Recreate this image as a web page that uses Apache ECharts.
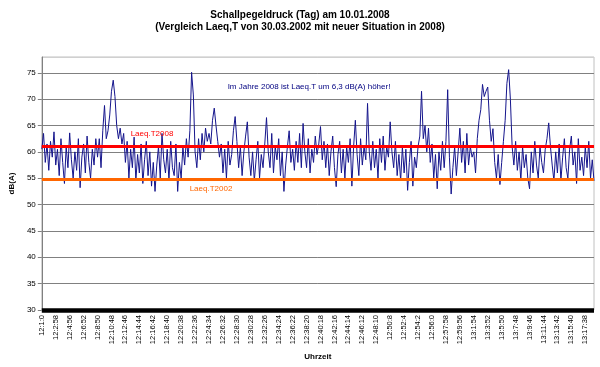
<!DOCTYPE html>
<html>
<head>
<meta charset="utf-8">
<script src="https://cdn.jsdelivr.net/npm/echarts@6/dist/echarts.min.js"></script>
<style>html,body{margin:0;padding:0;background:#fff}#c{width:600px;height:367px}</style>
</head>
<body>
<div id="c"></div>
<script>
// tick labels on the time axis (one every 8 plotted points)
const ticks = ['12:1:0','12:2:58','12:4:56','12:6:52','12:8:50','12:10:48','12:12:46','12:14:44','12:16:42','12:18:40','12:20:38','12:22:36','12:24:34','12:26:32','12:28:30','12:30:28','12:32:26','12:34:24','12:36:22','12:38:20','12:40:18','12:42:16','12:44:14','12:46:12','12:48:10','12:50:8','12:52:4','12:54:2','12:56:0','12:57:58','12:59:56','13:1:54','13:3:52','13:5:50','13:7:48','13:9:46','13:11:44','13:13:42','13:15:40','13:17:38'];
const pointsPerTick = 8;

// sound pressure level dB(A)
const levels = [
60.5,63.5,58,61.5,56.5,62,59,63.8,
57.5,60.5,55.5,62.5,58,54,61,57,
63.6,58.5,55,60,56.5,62.5,53.2,59,
61.5,56,63,58,55,60.5,57.5,62.5,
59,62.5,57,64,68.8,62.5,64,67,
71.5,73.6,70.5,65,62.5,64.5,61.5,63.5,
58,62,55,60.5,57,62.8,54.5,59.5,
56,61.5,54,58.5,62,55.5,60,53.5,
58,52.5,57.5,61,55,63.5,58.5,56,
60.5,54.5,62,57,55.5,61.5,52.5,58,
55,61,57.5,62.5,59,64,75.1,70.8,
60,57,62.5,58.5,63.5,60,64.5,62,
63.5,61.5,66,68.3,65,62,59,61.5,
56,60.5,55,62,57.5,59.5,64,66.7,
62,57,61,55.5,60,63,65.7,59,
55.5,60,54.5,58.5,62,55,59.5,57,
61.5,66.5,60,57,63.5,56,61,58.5,
62.5,55.5,60,52.5,57.5,61,64,58,
60.5,56.5,62,58,63.5,57,65.4,60,
57,62.5,56,60.5,58,63,59.5,61.5,
64.8,58.5,62,57,61.5,55.5,60,63,
57,53.4,59.5,62,56,60.5,55,61,
58,62.5,53.5,61,66,59.5,55.5,62.5,
57.5,61,58.5,69.2,60,56.5,62,57,
60.5,55,62.5,58,63,56.5,61,59,
65.7,60,57,62,55.5,59.5,54.5,61,
56,60.5,52.7,58,62,53.5,59,57,
61,63,71.5,62.5,65,60,64.5,58,
61.5,55,59.5,53,60,56.5,62,57,
62,71.8,59,52,57,61,55.5,60,
64.5,58,62,56,63.5,57.5,61,59,
60,56,62.5,66,68,72.8,70.5,71.5,
72.3,66,62,64.4,58,55,59.5,53.8,
58,62,66,73,75.6,70,61,57.5,
62,56.5,60,54.5,61,57,59.5,55,
53,60,56,62,57.5,55,61,58,
56,60.5,62.5,65.5,61,57.5,54.5,60,
56,61.5,54.5,59,62.5,57,55,60.5,
63,57.5,60,54,62.5,56.5,59,55.5,
61,57,62,55,58.5,54.5
];

// reference levels
const laeq2008 = 61.1;
const laeq2002 = 54.8;

const categories = levels.map((_, i) => {
  const t = Math.floor(i / pointsPerTick), r = i % pointsPerTick;
  return r === 0 ? ticks[t] : ticks[t] + '+' + r;
});

const FONT = 'Liberation Sans, Arial, sans-serif';
const titleStyle = {fontFamily: FONT, fontSize: 10, fontWeight: 'bold', color: '#000'};
const chart = echarts.init(document.getElementById('c'), null, {renderer: 'canvas'});
chart.setOption({
  animation: false,
  backgroundColor: '#ffffff',
  title: [
    {text: 'Schallpegeldruck (Tag) am 10.01.2008', left: 'center', top: 10.5, padding: 0, textStyle: titleStyle},
    {text: '(Vergleich Laeq,T von 30.03.2002 mit neuer Situation in 2008)', left: 'center', top: 22, padding: 0, textStyle: titleStyle}
  ],
  grid: {left: 34, right: 6, top: 57, bottom: 57, show: true, borderColor: '#c0c0c0', borderWidth: 1, backgroundColor: '#fff'},
  xAxis: {
    type: 'category',
    data: categories,
    boundaryGap: false,
    name: 'Uhrzeit',
    nameLocation: 'middle',
    nameGap: 43,
    nameTextStyle: {fontFamily: FONT, fontSize: 8, fontWeight: 'bold', color: '#000'},
    axisLine: {lineStyle: {color: '#000', width: 4.5, cap: 'butt'}},
    axisTick: {show: false},
    axisLabel: {interval: pointsPerTick - 1, rotate: 90, margin: 5, fontFamily: FONT, fontSize: 7.5, color: '#000'},
    splitLine: {show: false}
  },
  yAxis: {
    type: 'value',
    min: 30, max: 78, interval: 5,
    name: 'dB(A)',
    nameLocation: 'middle',
    nameGap: 19,
    nameTextStyle: {fontFamily: FONT, fontSize: 8, fontWeight: 'bold', color: '#000'},
    axisLine: {show: true, lineStyle: {color: '#808080', width: 1}},
    axisTick: {show: true, length: 4, inside: false, lineStyle: {color: '#808080'}},
    axisLabel: {fontFamily: FONT, fontSize: 8, color: '#000', margin: 6, showMaxLabel: false},
    splitLine: {show: true, lineStyle: {color: ['#808080','#808080','#808080','#808080','#808080','#808080','#808080','#808080','#808080','#808080','#d0d0d0'], width: 1}}
  },
  series: [{
    type: 'line',
    data: levels,
    symbol: 'none',
    sampling: 'none',
    lineStyle: {color: '#15158c', width: 1},
    z: 2,
    markLine: {
      silent: true,
      symbol: ['none', 'none'],
      label: {show: false},
      data: [
        {yAxis: laeq2008, lineStyle: {color: '#ff0000', width: 3, type: 'solid'}},
        {yAxis: laeq2002, lineStyle: {color: '#ff6600', width: 3, type: 'solid'}}
      ]
    }
  }],
  graphic: [
    {type: 'text', x: 152, y: 134, z: 10, style: {text: 'Laeq.T2008', fill: '#ff0000', font: '8px ' + FONT, align: 'center', verticalAlign: 'middle'}},
    {type: 'text', x: 211, y: 189, z: 10, style: {text: 'Laeq.T2002', fill: '#ff6600', font: '8px ' + FONT, align: 'center', verticalAlign: 'middle'}},
    {type: 'text', x: 309, y: 87, z: 10, style: {text: 'Im Jahre 2008 ist Laeq.T um 6,3 dB(A) höher!', fill: '#000080', font: '8px ' + FONT, align: 'center', verticalAlign: 'middle'}}
  ]
});
</script>
</body>
</html>
